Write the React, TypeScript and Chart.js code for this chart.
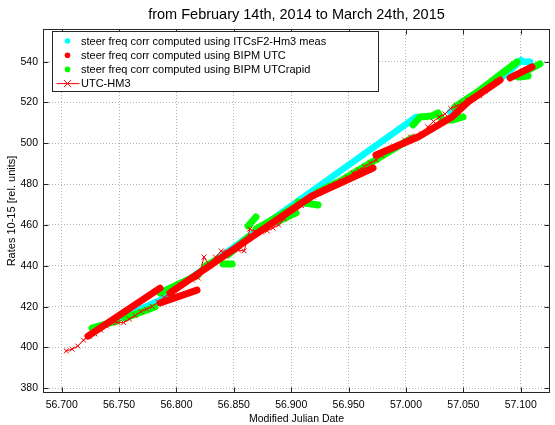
import React, { useEffect, useRef } from 'react';
import { Chart, registerables } from 'chart.js';

Chart.register(...registerables);

const FONT = '"Liberation Sans", Arial, Helvetica, sans-serif';

const TITLE = 'from February 14th, 2014 to March 24th, 2015';
const X_TITLE = 'Modified Julian Date';
const Y_TITLE = 'Rates 10-15 [rel. units]';

const X_MIN = 56683.7;
const X_MAX = 57125.5;
const Y_MIN = 377.7;
const Y_MAX = 556.0;

const xTicks = [56700, 56750, 56800, 56850, 56900, 56950, 57000, 57050, 57100];
const xTickLabels = ['56.700', '56.750', '56.800', '56.850', '56.900', '56.950', '57.000', '57.050', '57.100'];
const yTicks = [380, 400, 420, 440, 460, 480, 500, 520, 540];
const yTickLabels = ['380', '400', '420', '440', '460', '480', '500', '520', '540'];

const seriesLabels = [
  'steer freq corr computed using ITCsF2-Hm3 meas',
  'steer freq corr computed using BIPM UTC',
  'steer freq corr computed using BIPM UTCrapid',
  'UTC-HM3',
];

// cyan: ITCsF2-Hm3 meas (segments separated by null)
const cyanMjd = [56746.4, 56785.7, 56890.2, 57008.8, null, 57038.4, 57088.1, 57100.3, null, 57102.0, 57108.1];
const cyanVal = [413.4, 423.2, 465.4, 512.9, null, 515.4, 534.0, 540.8, null, 539.9, 539.9];

// red: BIPM UTC
const redMjd = [56722.9, 56785.7, null, 56785.7, 56817.9, null, 56794.4, 56864.1, 56918.1, 56971.3, null,
  56973.9, 57010.5, 57040.1, 57054.1, 57082.0, null, 57090.7, 57109.8];
const redVal = [405.6, 429.1, null, 421.8, 428.1, null, 426.7, 453.6, 474.2, 487.9, null,
  494.3, 503.1, 512.9, 520.3, 531.0, null, 532.0, 537.4];

// green: BIPM UTCrapid
const greenMjd = [56726.4, 56748.2, null, 56755.2, 56781.3, null, 56785.7, 56818.8, null, 56824.9, 56836.2, null,
  56840.6, 56848.4, null, 56844.9, 56862.4, null, 56862.4, 56869.3, null, 56869.3, 56916.4, null,
  56887.6, 56904.2, null, 56905.9, 56923.4, null, 56923.4, 56944.3, 56987.8, 57005.3, null,
  57006.1, 57012.2, 57022.7, 57027.9, 57031.4, 57040.1, 57049.7, null,
  57042.7, 57064.5, 57096.8, null, 57097.6, 57106.4, null, 57106.4, 57116.8];
const greenVal = [409.5, 413.0, null, 414.4, 419.8, null, 426.7, 435.5, null, 439.9, 443.3, null,
  440.9, 440.9, null, 445.3, 454.1, null, 459.5, 463.9, null, 458.0, 473.2, null,
  461.5, 465.9, null, 471.3, 469.8, null, 476.2, 482.0, 496.7, 502.6, null,
  509.0, 512.9, 513.4, 514.9, 511.4, 511.4, 512.9, null,
  517.8, 526.1, 539.9, null, 532.5, 533.0, null, 535.9, 538.9];

// UTC-HM3 (every 5 days)
const hm3Mjd = [56704, 56709, 56714, 56719, 56724, 56729, 56734, 56739, 56744, 56749,
  56754, 56759, 56764, 56769, 56774, 56779, 56784, 56789, 56794, 56799,
  56804, 56809, 56814, 56819, 56824, 56829, 56834, 56839, 56844, 56849,
  56854, 56859, 56864, 56869, 56874, 56879, 56884, 56889, 56894, 56899,
  56904, 56909, 56914, 56919, 56924, 56929, 56934, 56939, 56944, 56949,
  56954, 56959, 56964, 56969, 56974, 56979, 56984, 56989, 56994, 56999,
  57004, 57009, 57014, 57019, 57024, 57029, 57034, 57039, 57044, 57049,
  57054, 57059, 57064, 57069, 57074, 57079];
const hm3Val = [398.3, 399.2, 400.7, 403.6, 405.4, 406.6, 408.5, 410.5, 412.0, 412.2,
  412.2, 413.9, 415.6, 417.6, 418.8, 420.1, 422.3, 424.5, 426.2, 428.6,
  430.8, 432.3, 433.0, 434.0, 444.3, 439.9, 444.3, 447.3, 446.8, 447.3,
  447.7, 447.3, 458.0, 456.6, 456.6, 457.1, 458.5, 460.0, 462.9, 466.9,
  468.8, 469.5, 472.0, 473.7, 475.4, 477.4, 479.1, 480.3, 481.5, 483.3,
  485.5, 486.9, 488.7, 490.4, 491.8, 494.0, 496.7, 498.2, 499.4, 501.6,
  503.1, 503.6, 504.6, 508.0, 510.7, 512.9, 514.4, 517.1, 518.3, 519.5,
  521.2, 522.5, 523.4, 525.6, 528.1, 530.5];

function toPoints(mjd: (number | null)[], val: (number | null)[]) {
  const pts: { x: number; y: number | null }[] = [];
  let lastX = mjd.find((m) => m != null) as number;
  for (let i = 0; i < mjd.length; i++) {
    const m = mjd[i];
    const v = val[i];
    if (m == null || v == null) {
      pts.push({ x: lastX, y: null });
    } else {
      lastX = m;
      pts.push({ x: m, y: v });
    }
  }
  return pts;
}

const LEGEND_FONT = 11;
const LEGEND_BOX_W = 326;
const LEGEND_BOX_H = 60;

const framePlugin = {
  id: 'matlabFrame',
  afterDraw(chart: any) {
    const { ctx, chartArea: a, scales } = chart;
    const L = Math.round(a.left) + 0.5;
    const R = Math.round(a.right) - 0.5;
    const T = Math.round(a.top) + 0.5;
    const B = Math.round(a.bottom) - 0.5;
    ctx.save();
    ctx.strokeStyle = '#262626';
    ctx.lineWidth = 1;
    ctx.setLineDash([]);
    ctx.strokeRect(L, T, R - L, B - T);
    ctx.beginPath();
    const tl = 5;
    for (const v of xTicks) {
      const px = Math.round(scales.x.getPixelForValue(v)) + 0.5;
      ctx.moveTo(px, B); ctx.lineTo(px, B - tl);
      ctx.moveTo(px, T); ctx.lineTo(px, T + tl);
    }
    for (const v of yTicks) {
      const py = Math.round(scales.y.getPixelForValue(v)) + 0.5;
      ctx.moveTo(L, py); ctx.lineTo(L + tl, py);
      ctx.moveTo(R, py); ctx.lineTo(R - tl, py);
    }
    ctx.stroke();

    // legend box (MATLAB style, inside the axes, top-left)
    const ds = chart.data.datasets;
    ctx.font = `${LEGEND_FONT}px ${FONT}`;
    const bx = Math.round(a.left + 9) + 0.5;
    const by = Math.round(a.top + 2) + 0.5;
    const textOff = 28.5;
    ctx.fillStyle = '#ffffff';
    ctx.fillRect(bx, by, LEGEND_BOX_W, LEGEND_BOX_H);
    ctx.strokeStyle = '#262626';
    ctx.strokeRect(bx, by, LEGEND_BOX_W, LEGEND_BOX_H);
    ds.forEach((d: any, i: number) => {
      const cy = by + 9.5 + i * 14.2;
      const mx = bx + 15;
      if (d.legendKind === 'line') {
        ctx.strokeStyle = d.borderColor;
        ctx.lineWidth = 1;
        ctx.beginPath();
        ctx.moveTo(bx + 4, cy); ctx.lineTo(bx + 27, cy);
        const r = 3.5;
        ctx.moveTo(mx - r, cy - r); ctx.lineTo(mx + r, cy + r);
        ctx.moveTo(mx - r, cy + r); ctx.lineTo(mx + r, cy - r);
        ctx.stroke();
      } else {
        ctx.fillStyle = d.borderColor;
        ctx.beginPath();
        ctx.arc(mx, cy, 2.8, 0, Math.PI * 2);
        ctx.fill();
      }
      ctx.fillStyle = '#000000';
      ctx.textAlign = 'left';
      ctx.textBaseline = 'middle';
      ctx.fillText(d.label, bx + textOff, cy + 0.5);
    });
    ctx.restore();
  },
};

export default function App() {
  const ref = useRef<HTMLCanvasElement | null>(null);

  useEffect(() => {
    if (!ref.current) return;
    const thick = (label: string, color: string, pts: any[], order: number, width: number) => ({
      label,
      data: pts,
      borderColor: color,
      backgroundColor: color,
      borderWidth: width,
      borderCapStyle: 'round',
      borderJoinStyle: 'round',
      pointRadius: 0,
      showLine: true,
      spanGaps: false,
      order,
      legendKind: 'dot',
    });

    const chart = new Chart(ref.current, {
      type: 'line',
      data: {
        datasets: [
          thick(seriesLabels[0], '#00FFFF', toPoints(cyanMjd, cyanVal), 3, 6.5),
          thick(seriesLabels[1], '#FF0000', toPoints(redMjd, redVal), 1, 7),
          thick(seriesLabels[2], '#00FF00', toPoints(greenMjd, greenVal), 2, 7),
          {
            label: seriesLabels[3],
            data: toPoints(hm3Mjd, hm3Val),
            borderColor: '#FF0000',
            backgroundColor: '#FF0000',
            borderWidth: 1,
            pointStyle: 'crossRot',
            pointRadius: 3.5,
            pointBorderWidth: 1,
            pointBorderColor: '#FF0000',
            order: 0,
            legendKind: 'line',
          } as any,
        ] as any,
      },
      options: {
        responsive: false,
        animation: false,
        events: [],
        layout: { padding: { left: 0, right: 5, top: 0, bottom: 0 } },
        plugins: {
          legend: { display: false },
          tooltip: { enabled: false },
          title: {
            display: true,
            text: TITLE,
            fullSize: false,
            color: '#000000',
            font: { family: FONT, size: 14.5, weight: 'normal', lineHeight: 1.2 },
            padding: { top: 6.3, bottom: 5.3 },
          },
        },
        scales: {
          x: {
            type: 'linear',
            min: X_MIN,
            max: X_MAX,
            afterBuildTicks: (s: any) => { s.ticks = xTicks.map((v) => ({ value: v })); },
            afterFit: (s: any) => { s.height = 32; },
            ticks: {
              autoSkip: false,
              maxRotation: 0,
              minRotation: 0,
              padding: 6,
              color: '#000000',
              font: { family: FONT, size: 10.5 },
              callback: (v: any) => xTickLabels[xTicks.indexOf(Number(v))] ?? '',
            },
            grid: { color: '#b4b4b4', lineWidth: 1, drawTicks: false },
            border: { display: false, dash: [1, 2] },
            title: {
              display: true,
              text: X_TITLE,
              color: '#000000',
              font: { family: FONT, size: 10.5 },
              padding: { top: 0, bottom: 0 },
            },
          },
          y: {
            type: 'linear',
            min: Y_MIN,
            max: Y_MAX,
            afterBuildTicks: (s: any) => { s.ticks = yTicks.map((v) => ({ value: v })); },
            afterFit: (s: any) => { s.width = 43; },
            ticks: {
              autoSkip: false,
              padding: 5,
              color: '#000000',
              font: { family: FONT, size: 10.5 },
              callback: (v: any) => yTickLabels[yTicks.indexOf(Number(v))] ?? '',
            },
            grid: { color: '#b4b4b4', lineWidth: 1, drawTicks: false },
            border: { display: false, dash: [1, 2] },
            title: {
              display: true,
              text: Y_TITLE,
              color: '#000000',
              font: { family: FONT, size: 11 },
              padding: { top: 5, bottom: 0 },
            },
          },
        },
      } as any,
      plugins: [framePlugin],
    });
    return () => chart.destroy();
  }, []);

  return (
    <div style={{ position: 'absolute', left: 0, top: 0, width: 555, height: 425, background: '#ffffff' }}>
      <canvas ref={ref} width={555} height={425} style={{ display: 'block' }} />
    </div>
  );
}
